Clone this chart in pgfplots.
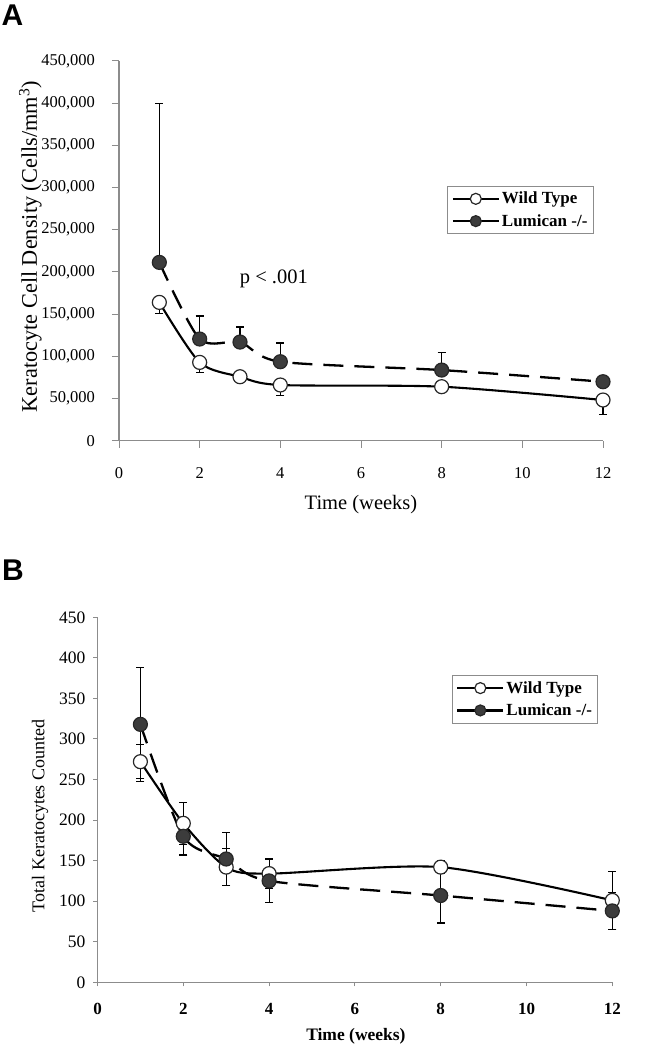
\documentclass[border=0pt]{standalone}
\usepackage{fontspec}
\setmainfont{Liberation Serif}
\newfontfamily\panelfont{Liberation Sans}
\usepackage{pgfplots}
\usepackage{pgfplotstable}
\pgfplotsset{compat=1.18}

\pgfplotstableread{
x y e
1 211300 188700
2 120500 27200
3 116900 17800
4 93600 22100
8 83700 20600
12 69900 6000
}\ALum
\pgfplotstableread{
x y e
1 163900 13000
2 92800 12200
3 75800 7000
4 66000 12300
8 64000 3000
12 48200 17000
}\AWT
\pgfplotstableread{
x y e
1 318 70
2 180 23
3 152 33
4 125 27
8 107 34
12 88 23
}\BLum
\pgfplotstableread{
x y e
1 272 21
2 196 26
3 142 23
4 134 18
8 142 8
12 101 36
}\BWT

\definecolor{axgray}{RGB}{140,140,140}
\definecolor{fillgray}{RGB}{60,60,60}

\pgfplotsset{
 mystyle/.style={
  scale only axis,
  axis x line=bottom, axis y line=left,
  axis line style={-, draw=axgray, line width=1.1pt},
  tick align=outside,
  tick style={axgray, line width=1pt},
  xmin=0, xmax=12, xtick={0,2,...,12},
  /pgf/number format/assume math mode=true,
  legend cell align=left,
  legend style={draw=axgray, line width=1pt, font=\fontsize{17}{20}\selectfont\bfseries,
    inner xsep=4pt, inner ysep=4pt, row sep=5pt, anchor=north west},
  clip=false,
 },
 wt/.style={black, line width=2.1pt, smooth, tension=0.45, mark=*, mark size=7pt,
   mark options={solid, fill=white, draw=black!85, line width=1.2pt}},
 lum/.style={black, line width=2.3pt, dash pattern=on 20pt off 11pt, smooth, tension=0.45, mark=*, mark size=7pt,
   mark options={solid, fill=fillgray, draw=black!85, line width=1.2pt}},
 leg/.style={legend image code/.code={
   \draw[#1, solid] (0pt,0pt) -- (46pt,0pt);
   \draw[#1, solid, mark size=5.5pt] plot coordinates {(23pt,0pt)};}},
 ebstyle/.style={/pgfplots/error bars/error bar style={line width=1.2pt, black, solid},
   /pgfplots/error bars/error mark options={rotate=90, mark size=4pt, line width=1.2pt, black, solid}},
}

\begin{document}
\begin{tikzpicture}[x=1pt,y=1pt]
\useasboundingbox (0,0) rectangle (662,1050);

% Panel A
\begin{axis}[mystyle,
  at={(119pt,609.3pt)}, anchor=south west,
  width=484pt, height=379.7pt,
  major tick length=7pt,
  ymin=0, ymax=450000, ytick={0,50000,...,450000},
  scaled y ticks=false,
  yticklabel style={/pgf/number format/fixed, /pgf/number format/1000 sep={,}},
  yticklabel style={font=\fontsize{16.5}{19}\selectfont},
  xticklabel style={font=\fontsize{16.5}{19}\selectfont},
  yticklabel shift=13.5pt,
  xticklabel shift=16.5pt,
  xlabel={Time (weeks)},
  xlabel style={font=\fontsize{20.5}{24}\selectfont, at={(axis description cs:0.5,-0.169)}, anchor=center},
  ylabel={Keratocyte Cell Density (Cells/mm\textsuperscript{3})},
  ylabel style={font=\fontsize{22.3}{26}\selectfont, at={(axis description cs:-0.183,0.511)}, anchor=center},
  legend style={at={(axis description cs:0.678,0.6716)}},
]
\addplot+[wt, leg, error bars/.cd, y dir=minus, y explicit, /pgfplots/ebstyle] table[x=x, y=y, y error=e] {\AWT};
\addlegendentry{Wild Type}
\addplot+[lum, leg, error bars/.cd, y dir=plus, y explicit, /pgfplots/ebstyle] table[x=x, y=y, y error=e] {\ALum};
\addlegendentry{Lumican -/-}
\node[font=\fontsize{20.5}{24}\selectfont] at (axis cs:3.84,191300) {p {\char`\<} .001};
\end{axis}
\node[font=\panelfont\bfseries\fontsize{30}{34}\selectfont] at (12.5,1035) {A};

% Panel B
\begin{axis}[mystyle,
  at={(97.5pt,67.7pt)}, anchor=south west,
  width=514.8pt, height=365pt,
  major tick length=4pt,
  ymin=0, ymax=450, ytick={0,50,...,450},
  yticklabel style={font=\fontsize{17.5}{20}\selectfont},
  xticklabel style={font=\fontsize{17}{20}\selectfont\bfseries},
  yticklabel shift=4.7pt,
  xticklabel shift=13.7pt,
  xlabel={\textbf{Time (weeks)}},
  xlabel style={font=\fontsize{17.5}{21}\selectfont, at={(axis description cs:0.502,-0.147)}, anchor=center},
  ylabel={Total Keratocytes Counted},
  ylabel style={font=\fontsize{18}{22}\selectfont, at={(axis description cs:-0.1117,0.456)}, anchor=center},
  legend style={at={(axis description cs:0.688,0.842)}},
]
\addplot+[wt, leg, error bars/.cd, y dir=both, y explicit, /pgfplots/ebstyle] table[x=x, y=y, y error=e] {\BWT};
\addlegendentry{Wild Type}
\addplot+[lum, leg, error bars/.cd, y dir=both, y explicit, /pgfplots/ebstyle] table[x=x, y=y, y error=e] {\BLum};
\addlegendentry{Lumican -/-}
\end{axis}
\node[font=\panelfont\bfseries\fontsize{30}{34}\selectfont] at (13,480) {B};
\end{tikzpicture}
\end{document}
